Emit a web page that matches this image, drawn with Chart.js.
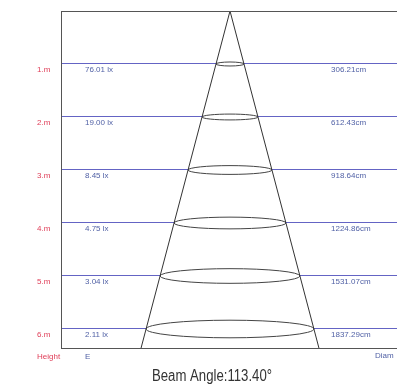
<!DOCTYPE html>
<html><head><meta charset="utf-8">
<script src="https://cdn.jsdelivr.net/npm/chart.js@4"></script>
<style>html,body{margin:0;padding:0;overflow:hidden;background:#fff}#wrap{width:420px;height:386px}</style>
</head><body><div id="wrap"><canvas id="c" width="420" height="386"></canvas></div>
<script>
const heights = [1, 2, 3, 4, 5, 6];
const heightLabels = ['1.m', '2.m', '3.m', '4.m', '5.m', '6.m'];
const luxValues = [76.01, 19.00, 8.45, 4.75, 3.04, 2.11];
const diameters = [306.21, 612.43, 918.64, 1224.86, 1531.07, 1837.29];
const beamAngle = 113.40;
const yMaxM = 6.3585;
const xHalfRange = 18.5;

const halfPerM = diameters[0] / 100 / 2 / heights[0];
const coneData = [
  {x: -halfPerM * yMaxM, y: yMaxM},
  {x: 0, y: 0},
  {x: halfPerM * yMaxM, y: yMaxM}
];

const RED = '#e0405a', BLUE = '#5262a6', GRID = '#6464c4', FRAME = '#555555';
const SMALL = '8px "Liberation Sans", Arial, sans-serif';

const drawPlugin = {
  id: 'beam',
  beforeDatasetsDraw(chart) {
    const {ctx, scales: {x, y}} = chart;
    ctx.save();
    heights.forEach((h, i) => {
      const cx = x.getPixelForValue(0);
      const cy = y.getPixelForValue(h);
      const rx = x.getPixelForValue(diameters[i] / 200) - cx;
      const ry = Math.max(2, rx * 0.105);
      ctx.beginPath();
      ctx.ellipse(cx, cy, rx, ry, 0, 0, Math.PI * 2);
      ctx.fillStyle = '#ffffff';
      ctx.fill();
      ctx.lineWidth = 1;
      ctx.strokeStyle = '#444444';
      ctx.stroke();
    });
    ctx.restore();
  },
  afterDraw(chart) {
    const {ctx, scales: {x, y}, chartArea: a} = chart;
    ctx.save();
    ctx.strokeStyle = FRAME;
    ctx.lineWidth = 1;
    ctx.strokeRect(Math.round(a.left) + 0.5, Math.round(a.top) + 0.5, Math.round(a.right - a.left), Math.round(a.bottom - a.top));
    ctx.font = SMALL;
    ctx.textBaseline = 'middle';
    ctx.textAlign = 'left';
    heights.forEach((h, i) => {
      const py = y.getPixelForValue(h) + 6;
      ctx.fillStyle = BLUE;
      ctx.fillText(luxValues[i].toFixed(2) + ' lx', 85, py);
      ctx.fillText(diameters[i].toFixed(2) + 'cm', 331, py);
    });
    ctx.fillStyle = RED;
    ctx.fillText('Height', 37, 357);
    ctx.fillStyle = BLUE;
    ctx.fillText('E', 85, 357);
    ctx.fillText('Diam', 375, 356);
    const title = 'Beam Angle:' + beamAngle.toFixed(2) + '\u00B0';
    ctx.fillStyle = '#333333';
    ctx.font = '16px "Liberation Sans", Arial, sans-serif';
    const w = ctx.measureText(title).width;
    const sx = 120 / w;
    ctx.translate(152, 377);
    ctx.scale(sx, 1);
    ctx.textAlign = 'left';
    ctx.fillText(title, 0, 0);
    ctx.restore();
  }
};

new Chart(document.getElementById('c'), {
  type: 'scatter',
  data: {
    datasets: [{
      data: coneData,
      showLine: true,
      borderColor: '#333333',
      borderWidth: 1,
      pointRadius: 0,
      fill: false,
      tension: 0
    }]
  },
  options: {
    responsive: false,
    animation: false,
    devicePixelRatio: 1,
    layout: {padding: {left: 37, top: 11, right: 21, bottom: 38}},
    plugins: {legend: {display: false}, tooltip: {enabled: false}},
    scales: {
      x: {type: 'linear', display: false, min: -xHalfRange, max: xHalfRange},
      y: {
        type: 'linear', reverse: true, min: 0, max: yMaxM,
        afterFit(s) { s.width = 24; },
        afterBuildTicks(s) { s.ticks = heights.map(v => ({value: v})); },
        border: {display: false},
        grid: {color: GRID, lineWidth: 1, drawTicks: false},
        ticks: {
          crossAlign: 'far', padding: 0, labelOffset: 6,
          color: RED, font: {family: '"Liberation Sans", Arial, sans-serif', size: 8},
          callback: (v) => heightLabels[heights.indexOf(v)]
        }
      }
    }
  },
  plugins: [drawPlugin]
});
</script></body></html>
